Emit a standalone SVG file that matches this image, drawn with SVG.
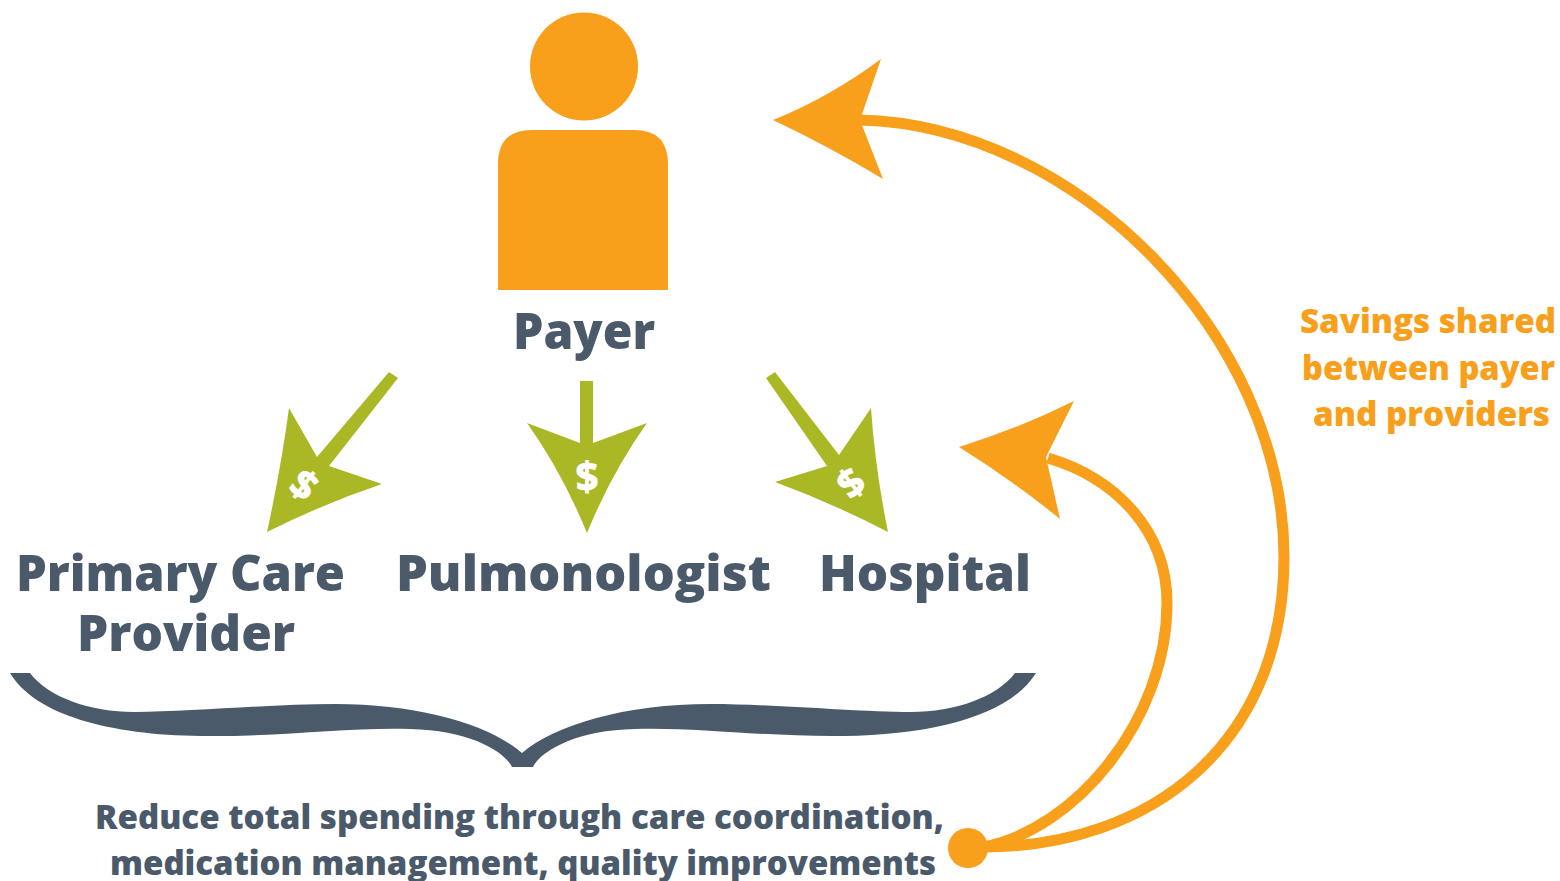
<svg xmlns="http://www.w3.org/2000/svg" width="1560" height="881" viewBox="0 0 1560 881">
<style>
text{font-family:"Open Sans","Noto Sans","Liberation Sans",sans-serif;font-weight:800}
.l{fill:#4a5a6a}
.o{fill:#f8a01b;font-size:33px}
.big{font-size:50px}
.sm{font-size:33px}
.d{fill:#fff;font-size:40px;text-anchor:middle}
.ga{fill:#abb825}
.oa{fill:none;stroke:#f8a01b;stroke-width:11}
.of{fill:#f8a01b}
</style>
<rect width="1560" height="881" fill="#fff"/>
<g id="payer">
<circle cx="584" cy="66.5" r="54" class="of"/>
<path d="M498 290V164Q498 130 532 130H634Q668 130 668 164V290Z" class="of"/>
<text class="l big" x="513" y="349" textLength="142" lengthAdjust="spacingAndGlyphs">Payer</text>
</g>
<g id="connectors">
<path class="oa" d="M983 847C1150 847 1284 745 1284 557C1284 335 1075 125 860 120"/>
<path class="of" d="M773 120Q830 97 881 59L860 120L883 179Q830 147 773 120Z"/>
<path class="oa" d="M983 847C1075 830 1167 720 1167 603C1167 530 1115 478 1048 458"/>
<path class="of" d="M959 447Q1020 428 1074 401L1046 457L1060 519Q1012 480 959 447Z"/>
<path class="ga" d="M389 372L398 378L329 466L382 484Q325 503 267 532Q281 468 289 408L317 457Z"/>
<path class="ga" d="M580 381H593V443L647 423Q612 472 587 533Q562 472 527 423L580 443Z"/>
<path class="ga" d="M775 372L766 378L827 466L775 482Q832 503 888 532Q875 468 871 408L839 455Z"/>
</g>
<g id="dollars">
<text class="d" transform="translate(304 485) rotate(38)" y="14">$</text>
<text class="d" x="587" y="491">$</text>
<text class="d" transform="translate(851 483) rotate(-38)" y="14">$</text>
</g>
<g id="primary-care-provider">
<text class="l big" x="16" y="591" textLength="329" lengthAdjust="spacingAndGlyphs">Primary Care</text>
<text class="l big" x="77" y="651" textLength="218" lengthAdjust="spacingAndGlyphs">Provider</text>
</g>
<g id="pulmonologist"><text class="l big" x="396" y="591" textLength="375" lengthAdjust="spacingAndGlyphs">Pulmonologist</text></g>
<g id="hospital"><text class="l big" x="819" y="591" textLength="212" lengthAdjust="spacingAndGlyphs">Hospital</text></g>
<g id="brace">
<path fill="#4a5a6a" d="M10 673H30C48 697 90 712 134 712C190 712 270 704 335 704C420 704 490 725 522 753C555 725 625 704 710 704C775 704 855 712 911 712C955 712 997 697 1015 673H1036C1010 715 935 735 844 736C765 737 695 727 635 729C575 730 540 752 533 767H512C505 752 470 730 410 729C350 727 280 737 201 736C110 735 35 715 10 673Z"/>
</g>
<g id="savings">
<text class="o" x="1300" y="333" textLength="256" lengthAdjust="spacingAndGlyphs">Savings shared</text>
<text class="o" x="1302" y="380" textLength="253" lengthAdjust="spacingAndGlyphs">between payer</text>
<text class="o" x="1313" y="426" textLength="237" lengthAdjust="spacingAndGlyphs">and providers</text>
</g>
<g id="reduce">
<text class="l sm" x="95" y="829" textLength="849" lengthAdjust="spacingAndGlyphs">Reduce total spending through care coordination,</text>
<text class="l sm" x="110" y="875" textLength="826" lengthAdjust="spacingAndGlyphs">medication management, quality improvements</text>
</g>
<g id="origin"><circle cx="968" cy="848" r="20" class="of"/></g>
</svg>
